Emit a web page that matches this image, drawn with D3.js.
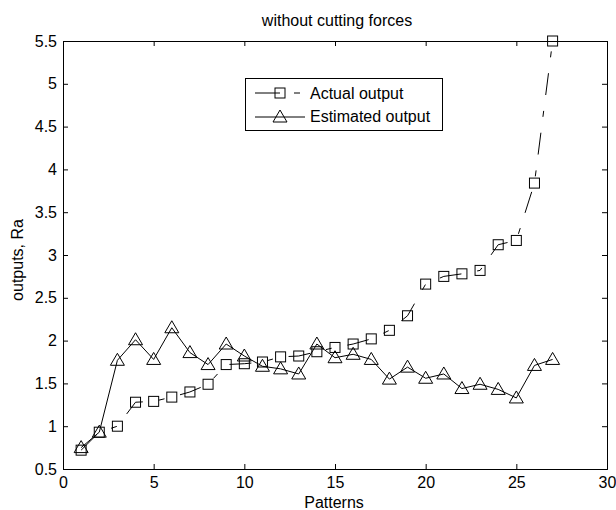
<!DOCTYPE html>
<html><head><meta charset="utf-8">
<script src="https://cdn.jsdelivr.net/npm/d3@7"></script>
<style>body{margin:0;background:#fff}svg{display:block}text{font-family:"Liberation Sans",Arial,sans-serif;fill:#000}</style>
</head><body><div id="c"></div>
<script>
const patterns = d3.range(1, 28);
const actual = [0.72,0.93,1.00,1.28,1.29,1.34,1.40,1.49,1.72,1.73,1.75,1.81,1.82,1.87,1.92,1.96,2.02,2.12,2.29,2.66,2.75,2.78,2.82,3.12,3.17,3.84,5.50];
const estimated = [0.75,0.93,1.77,2.01,1.78,2.15,1.86,1.72,1.96,1.82,1.70,1.67,1.61,1.96,1.80,1.84,1.78,1.55,1.69,1.56,1.61,1.44,1.49,1.43,1.33,1.71,1.78];
const xTicks = [0,5,10,15,20,25,30];
const yTicks = [0.5,1,1.5,2,2.5,3,3.5,4,4.5,5,5.5];
const title = "without cutting forces", xLabel = "Patterns", yLabel = "outputs, Ra";
const seriesNames = ["Actual output","Estimated output"];

const W=616,H=510, L=63,R=607,T=41,B=469;
const svg=d3.select("#c").append("svg").attr("width",W).attr("height",H);
const x=d3.scaleLinear().domain([0,30]).range([L,R]);
const y=d3.scaleLinear().domain([0.5,5.5]).range([B,T]);

const fs=16;
svg.append("g").attr("transform",`translate(0,${B})`).call(d3.axisBottom(x).tickValues(xTicks).tickSize(-5).tickPadding(8).tickFormat(d3.format("d")));
svg.append("g").attr("transform",`translate(0,${T})`).call(d3.axisTop(x).tickValues(xTicks).tickSize(-5).tickFormat(""));
svg.append("g").attr("transform",`translate(${L},0)`).call(d3.axisLeft(y).tickValues(yTicks).tickSize(-5).tickPadding(6).tickFormat(d=>String(d)));
svg.append("g").attr("transform",`translate(${R},0)`).call(d3.axisRight(y).tickValues(yTicks).tickSize(-5).tickFormat(""));
svg.selectAll(".domain").attr("stroke","#000").attr("stroke-width",1);
svg.selectAll(".tick line").attr("stroke","#000");
svg.selectAll(".tick text").attr("font-size",fs).attr("font-family","Liberation Sans, Arial, sans-serif").attr("fill","#000");

svg.append("text").attr("x",337).attr("y",26).attr("text-anchor","middle").attr("font-size",fs).text(title);
svg.append("text").attr("x",334).attr("y",508).attr("text-anchor","middle").attr("font-size",fs).text(xLabel);
svg.append("text").attr("transform",`translate(23,${(T+B)/2+5}) rotate(-90)`).attr("text-anchor","middle").attr("font-size",fs).text(yLabel);

const dash="22,16,6,16";
const line=d3.line().x((d,i)=>x(patterns[i])).y(d=>y(d));
const g=svg.append("g");
g.append("path").datum(actual).attr("d",line).attr("fill","none").attr("stroke","#000").attr("stroke-width",1).attr("stroke-dasharray",dash);
g.append("path").datum(estimated).attr("d",line).attr("fill","none").attr("stroke","#000").attr("stroke-width",1);

const sq=10;
function square(sel,cx,cy){sel.append("rect").attr("x",cx-sq/2).attr("y",cy-sq/2).attr("width",sq).attr("height",sq).attr("fill","none").attr("stroke","#000");}
function triangle(sel,cx,cy){sel.append("path").attr("d","M0,-7L7,5L-7,5Z").attr("transform",`translate(${cx},${cy})`).attr("fill","none").attr("stroke","#000");}
actual.forEach((v,i)=>square(g,x(patterns[i]),y(v)));
estimated.forEach((v,i)=>triangle(g,x(patterns[i]),y(v)));

// legend
const lg=svg.append("g");
lg.append("rect").attr("x",245.5).attr("y",78.5).attr("width",197).attr("height",52).attr("fill","#fff").attr("stroke","#000");
const r1=93,r2=117;
lg.append("line").attr("x1",255).attr("x2",280).attr("y1",r1).attr("y2",r1).attr("stroke","#000");
lg.append("line").attr("x1",294).attr("x2",300).attr("y1",r1).attr("y2",r1).attr("stroke","#000");
square(lg,280,r1);
lg.append("line").attr("x1",255).attr("x2",305).attr("y1",r2).attr("y2",r2).attr("stroke","#000");
triangle(lg,280,r2);
lg.append("text").attr("x",310).attr("y",r1+6).attr("font-size",fs).text(seriesNames[0]);
lg.append("text").attr("x",310).attr("y",r2+5).attr("font-size",fs).text(seriesNames[1]);
</script></body></html>
